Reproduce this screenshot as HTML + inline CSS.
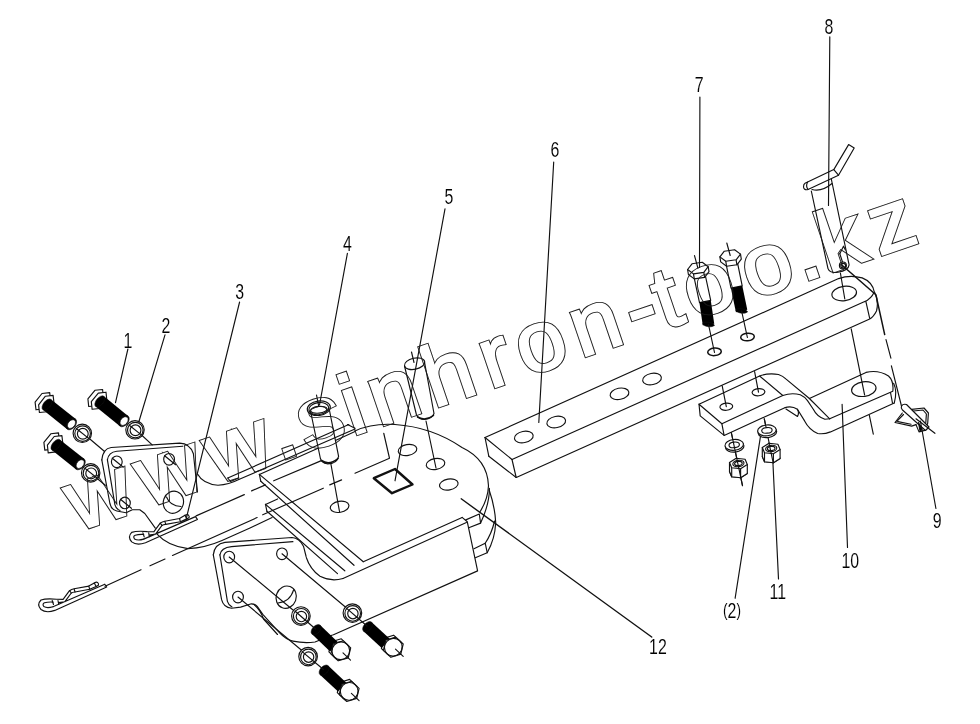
<!DOCTYPE html>
<html><head><meta charset="utf-8"><title>Drawing</title>
<style>html,body{margin:0;padding:0;background:#fff}svg{display:block}text{font-family:"Liberation Sans",sans-serif}</style></head>
<body>
<svg width="980" height="724" viewBox="0 0 980 724">
<rect width="980" height="724" fill="#fff"/>
<g fill="none" stroke="#111" stroke-width="1.15" stroke-linecap="round" stroke-linejoin="round">
<path d="M197.5,474 Q203,484 218,485.2 Q229,484.5 238.8,479.5"/>
<line x1="227.8" y1="478.0" x2="348.8" y2="424.5"/>
<line x1="238.8" y1="479.5" x2="355.0" y2="429.0"/>
<path d="M227.8,478 L230.5,481.5 L238.8,478"/>
<line x1="347.5" y1="424.5" x2="355.0" y2="428.3"/>
<line x1="259.4" y1="474.4" x2="318.0" y2="448.2"/>
<line x1="336.0" y1="440.2" x2="355.0" y2="431.5"/>
<path d="M355,431 Q372,423 395,424.5 Q432,427 462,447.5 Q487.5,459.5 488.5,485.7"/>
<path d="M488.5,485.7 Q488,499 479.9,512"/>
<path d="M489.4,488.4 Q489.5,504 480.6,523.1"/>
<path d="M489.1,489.7 Q495,507 495.7,522.5 Q495,539 487.2,552.7"/>
<path d="M494.6,521 Q491.5,534 485.2,543.2"/>
<line x1="363.3" y1="561.7" x2="462.1" y2="517.4"/>
<line x1="343.0" y1="578.5" x2="466.4" y2="522.4"/>
<path d="M462.1,517.4 L467.3,521.8 L477.6,570.9 L333.5,634.8"/>
<path d="M465.8,519.9 L479.3,514 L480.6,523.1 L468.8,527.7"/>
<path d="M474,548.7 L485.2,543.2 L487.2,552.7 L475.3,557.7"/>
<line x1="259.4" y1="474.4" x2="363.3" y2="561.7"/>
<line x1="259.4" y1="474.4" x2="260.8" y2="481.3"/>
<line x1="260.8" y1="481.3" x2="354.0" y2="565.3"/>
<line x1="265.5" y1="504.4" x2="277.6" y2="498.9"/>
<line x1="265.5" y1="504.4" x2="344.8" y2="570.8"/>
<line x1="265.5" y1="504.4" x2="266.9" y2="511.3"/>
<line x1="266.9" y1="511.3" x2="337.5" y2="573.6"/>
<path d="M306.3,557.5 Q310,569 320,576.3 Q331,582 343,578.5"/>
<path d="M157.3,534.3 Q168,546 188,548.6 Q205,548 222,540.5 L250,527.9 L272.1,517.5"/>
<ellipse cx="339.6" cy="506.8" rx="9.4" ry="5.5" transform="rotate(-10.0 339.6 506.8)"/>
<ellipse cx="435.5" cy="464.0" rx="9.4" ry="5.5" transform="rotate(-10.0 435.5 464.0)"/>
<ellipse cx="407.5" cy="450.0" rx="9.4" ry="5.5" transform="rotate(-10.0 407.5 450.0)"/>
<ellipse cx="448.8" cy="484.5" rx="9.4" ry="5.5" transform="rotate(-10.0 448.8 484.5)"/>
<path d="M373.8,478.2 L395.0,469.0 L412.5,484.5 L392.0,493.2 Z" stroke-width="2.4"/>
<path d="M383.75,433.25 L389.5,458.25 L355,473.25"/>
<line x1="196.1" y1="515.9" x2="244.3" y2="494.6"/>
<line x1="251.6" y1="490.9" x2="265.4" y2="484.9"/>
<line x1="273.7" y1="480.8" x2="321.4" y2="460.6"/>
<line x1="105.0" y1="586.3" x2="141.0" y2="569.7"/>
<line x1="150.0" y1="565.8" x2="165.0" y2="559.0"/>
<line x1="172.5" y1="555.5" x2="257.1" y2="517.6"/>
<line x1="262.7" y1="514.8" x2="323.3" y2="488.2"/>
<line x1="329.7" y1="484.9" x2="341.6" y2="479.9"/>
<path d="M310.6,411.5 L320.4,458.5 Q322,463 327,463.8 Q337,464 338.6,456.3 L329.5,410.5"/>
<path d="M321.5,460.5 Q329,466 338,458.5" stroke-width="1.6"/>
<ellipse cx="318.8" cy="408.2" rx="11.6" ry="7.2" transform="rotate(-8.0 318.8 408.2)"/>
<ellipse cx="318.8" cy="408.6" rx="10.0" ry="6.0" transform="rotate(-8.0 318.8 408.6)"/>
<ellipse cx="318.8" cy="409.8" rx="8.3" ry="3.4" transform="rotate(-6.0 318.8 409.8)"/>
<line x1="330.9" y1="464.0" x2="339.6" y2="512.0"/>
<line x1="316.5" y1="395.0" x2="318.8" y2="406.5"/>
<path d="M404.5,366 L416.5,415 Q419,419.5 424.5,419.5 Q432.5,418.5 434,413.5 L424.5,362"/>
<path d="M417.5,417 Q425,421.5 433.5,415.5" stroke-width="1.5"/>
<ellipse cx="414.6" cy="363.7" rx="10.3" ry="5.6" transform="rotate(-12.0 414.6 363.7)"/>
<line x1="426.0" y1="421.0" x2="436.0" y2="468.0"/>
<line x1="411.5" y1="352.0" x2="414.0" y2="362.5"/>
<line x1="87.5" y1="437.0" x2="104.3" y2="451.2"/>
<line x1="141.0" y1="434.5" x2="152.2" y2="444.8"/>
<line x1="96.0" y1="477.5" x2="105.3" y2="485.3"/>
<path d="M43.6,408.9 L36.0,409.8 L35.1,402.1 L42.0,393.5 L49.7,392.6 L50.5,400.3 Z" fill="#fff"/>
<path d="M47.1,411.7 L39.4,412.5 L38.6,404.8 L45.4,396.2 L53.1,395.4 L54.0,403.1 Z" fill="#fff"/>
<line x1="47.0" y1="404.6" x2="71.3" y2="424.0" stroke="#000" stroke-width="13.2" stroke-linecap="butt"/>
<ellipse cx="47.0" cy="404.6" rx="3.6" ry="6.6" fill="#000" stroke-width="0.5" transform="rotate(38.7 47.0 404.6)"/>
<ellipse cx="71.3" cy="424.0" rx="4.4" ry="6.6" fill="#000" stroke-width="0.5" transform="rotate(38.7 71.3 424.0)"/>
<ellipse cx="71.5" cy="424.1" rx="3.4" ry="4.9" fill="#fff" stroke-width="0.6" transform="rotate(38.7 71.5 424.1)"/>
<path d="M96.4,405.7 L88.7,406.5 L87.9,398.8 L94.9,390.3 L102.6,389.5 L103.3,397.2 Z" fill="#fff"/>
<path d="M99.8,408.5 L92.1,409.3 L91.3,401.6 L98.3,393.1 L106.0,392.2 L106.8,399.9 Z" fill="#fff"/>
<line x1="99.8" y1="401.4" x2="123.9" y2="421.0" stroke="#000" stroke-width="13.2" stroke-linecap="butt"/>
<ellipse cx="99.8" cy="401.4" rx="3.6" ry="6.6" fill="#000" stroke-width="0.5" transform="rotate(39.2 99.8 401.4)"/>
<ellipse cx="123.9" cy="421.0" rx="4.4" ry="6.6" fill="#000" stroke-width="0.5" transform="rotate(39.2 123.9 421.0)"/>
<ellipse cx="124.1" cy="421.1" rx="3.4" ry="4.9" fill="#fff" stroke-width="0.6" transform="rotate(39.2 124.1 421.1)"/>
<path d="M52.5,449.2 L44.8,450.1 L43.9,442.4 L50.8,433.8 L58.5,432.9 L59.3,440.6 Z" fill="#fff"/>
<path d="M55.9,451.9 L48.2,452.9 L47.4,445.2 L54.2,436.5 L61.9,435.6 L62.8,443.3 Z" fill="#fff"/>
<line x1="55.9" y1="444.9" x2="80.0" y2="464.0" stroke="#000" stroke-width="13.2" stroke-linecap="butt"/>
<ellipse cx="55.9" cy="444.9" rx="3.6" ry="6.6" fill="#000" stroke-width="0.5" transform="rotate(38.4 55.9 444.9)"/>
<ellipse cx="80.0" cy="464.0" rx="4.4" ry="6.6" fill="#000" stroke-width="0.5" transform="rotate(38.4 80.0 464.0)"/>
<ellipse cx="80.2" cy="464.1" rx="3.4" ry="4.9" fill="#fff" stroke-width="0.6" transform="rotate(38.4 80.2 464.1)"/>
<ellipse cx="82.3" cy="433.3" rx="9.2" ry="9.2" fill="#fff"/>
<ellipse cx="82.6" cy="433.6" rx="7.8" ry="7.8"/>
<ellipse cx="82.8" cy="433.8" rx="5.4" ry="5.4"/>
<line x1="76.3" y1="428.5" x2="88.3" y2="438.1"/>
<ellipse cx="135.0" cy="429.8" rx="9.2" ry="9.2" fill="#fff"/>
<ellipse cx="135.3" cy="430.1" rx="7.8" ry="7.8"/>
<ellipse cx="135.5" cy="430.3" rx="5.4" ry="5.4"/>
<line x1="129.0" y1="425.0" x2="141.0" y2="434.6"/>
<ellipse cx="90.7" cy="472.9" rx="9.2" ry="9.2" fill="#fff"/>
<ellipse cx="91.0" cy="473.2" rx="7.8" ry="7.8"/>
<ellipse cx="91.2" cy="473.4" rx="5.4" ry="5.4"/>
<line x1="84.7" y1="468.1" x2="96.7" y2="477.7"/>
<path d="M101.8,459.9 Q103,448.5 111.2,447.5 L179.7,443.1 Q190,443.5 193.4,453.7 L197.5,492"/>
<path d="M101.8,459.9 L109.9,503.5 Q111.5,510 116.8,511 L126.1,512.8 L132.3,509.7 L139.8,509.7 L144.8,513.5 L155.3,528.2"/>
<path d="M107.4,459.9 Q108.5,452 116.8,451.2 L182.8,446.2"/>
<path d="M107.4,459.9 L114.9,504.7 Q116,509 120,510.5"/>
<ellipse cx="116.8" cy="461.8" rx="5.4" ry="5.8"/>
<line x1="112.3" y1="458.2" x2="123.3" y2="467.2"/>
<ellipse cx="169.1" cy="459.3" rx="5.4" ry="5.8"/>
<line x1="164.6" y1="455.7" x2="175.6" y2="464.7"/>
<ellipse cx="124.9" cy="502.9" rx="5.4" ry="5.8"/>
<line x1="120.4" y1="499.3" x2="131.4" y2="508.3"/>
<ellipse cx="173.4" cy="502.2" rx="10.0" ry="11.2" transform="rotate(20.0 173.4 502.2)"/>
<path d="M166.5,497 Q170,506 181,506.5"/>
<g transform="translate(0 0)">
<path d="M53,606.7 L104.8,584.2 L106.7,587 L54.8,610.4 Q46,613.5 41,609.5 Q36.5,604.5 41,600 Q46,598.2 56.6,599.2 L63.1,599.4 L69.5,590.7 Q71.5,589.2 74.1,588.8 L88.8,586.1 L94.3,582.9 Q96.5,581.8 97.5,582.4 Q99,583.8 98.4,585.2 L96.1,586.5 L89.7,589.3 L75,592 Q72.5,592.3 71.3,593 L64.9,601.7 L58.5,602.6"/>
<path d="M53,606.7 Q47,608.5 43.8,606.5 Q42,604 44.5,602.8 Q48,601.8 53,602.1"/>
<path d="M52.2,600.5 L53.5,604.5 M58,600.5 L58.7,604.2 M69.5,590.7 L71.3,593 M74.1,588.8 L75,592 M88.8,586.1 L89.7,589.3 M94.3,582.9 L96.1,586.5"/>
</g>
<g transform="translate(90.7 -67.6)">
<path d="M53,606.7 L104.8,584.2 L106.7,587 L54.8,610.4 Q46,613.5 41,609.5 Q36.5,604.5 41,600 Q46,598.2 56.6,599.2 L63.1,599.4 L69.5,590.7 Q71.5,589.2 74.1,588.8 L88.8,586.1 L94.3,582.9 Q96.5,581.8 97.5,582.4 Q99,583.8 98.4,585.2 L96.1,586.5 L89.7,589.3 L75,592 Q72.5,592.3 71.3,593 L64.9,601.7 L58.5,602.6"/>
<path d="M53,606.7 Q47,608.5 43.8,606.5 Q42,604 44.5,602.8 Q48,601.8 53,602.1"/>
<path d="M52.2,600.5 L53.5,604.5 M58,600.5 L58.7,604.2 M69.5,590.7 L71.3,593 M74.1,588.8 L75,592 M88.8,586.1 L89.7,589.3 M94.3,582.9 L96.1,586.5"/>
</g>
<path d="M213.3,554.9 Q214.5,544 224.9,542.4 L292,537.5 Q299.5,538 303.6,546.6 L306.1,556.5"/>
<path d="M213.3,554.9 L221.6,599.7 Q223.5,607.5 231.5,608.3 L240.6,607.1 L251.4,603.8 Q255,603.8 257.2,606.3 L263,614.6 L279.6,632.8 Q286,639.5 292.9,641.1 Q304,643.5 315,642 L332.5,635"/>
<path d="M219.9,554.9 Q221,547.5 231.5,546.6 L292.9,541.6"/>
<path d="M219.9,554.9 L227.4,601.3 Q228.5,605 232,607"/>
<path d="M254.5,605 Q260.5,610 263.5,619 L277.5,634.5"/>
<ellipse cx="229.2" cy="557.0" rx="5.4" ry="5.8"/>
<ellipse cx="282.0" cy="553.8" rx="5.4" ry="5.8"/>
<ellipse cx="238.0" cy="597.0" rx="5.4" ry="5.8"/>
<ellipse cx="286.2" cy="597.2" rx="10.0" ry="11.3" transform="rotate(20.0 286.2 597.2)"/>
<path d="M278,603 Q290,602 293.7,589.7"/>
<line x1="229.2" y1="557.0" x2="300.5" y2="616.2"/>
<line x1="282.0" y1="553.8" x2="352.5" y2="613.0"/>
<line x1="238.0" y1="597.0" x2="308.8" y2="656.2"/>
<path d="M346.1,655.9 L336.2,658.9 L328.9,651.8 L331.4,641.8 L341.3,638.8 L348.7,645.9 Z" fill="#fff"/>
<line x1="316.1" y1="629.7" x2="334.3" y2="647.2" stroke="#000" stroke-width="12.2" stroke-linecap="butt"/>
<ellipse cx="316.1" cy="629.7" rx="3.8" ry="6.1" fill="#000" stroke-width="0.5" transform="rotate(43.9 316.1 629.7)"/>
<path d="M348.2,657.9 L338.2,660.8 L330.9,653.8 L333.4,643.7 L343.4,640.8 L350.7,647.8 Z" fill="#fff"/>
<ellipse cx="340.8" cy="650.8" rx="8.7" ry="9.0" transform="rotate(43.9 340.8 650.8)"/>
<line x1="343.0" y1="652.9" x2="350.5" y2="660.2"/>
<path d="M398.7,652.2 L388.9,655.4 L381.4,648.5 L383.7,638.4 L393.6,635.2 L401.1,642.1 Z" fill="#fff"/>
<line x1="367.6" y1="626.7" x2="385.8" y2="643.5" stroke="#000" stroke-width="12.2" stroke-linecap="butt"/>
<ellipse cx="367.6" cy="626.7" rx="3.8" ry="6.1" fill="#000" stroke-width="0.5" transform="rotate(42.7 367.6 626.7)"/>
<path d="M400.8,654.1 L390.9,657.3 L383.4,650.4 L385.8,640.3 L395.7,637.1 L403.2,644.0 Z" fill="#fff"/>
<ellipse cx="393.3" cy="647.2" rx="8.7" ry="9.0" transform="rotate(42.7 393.3 647.2)"/>
<line x1="395.5" y1="649.2" x2="403.2" y2="656.3"/>
<path d="M354.6,696.4 L344.7,699.6 L337.3,692.6 L339.7,682.5 L349.6,679.4 L357.0,686.4 Z" fill="#fff"/>
<line x1="324.1" y1="670.2" x2="342.2" y2="687.1" stroke="#000" stroke-width="12.2" stroke-linecap="butt"/>
<ellipse cx="324.1" cy="670.2" rx="3.8" ry="6.1" fill="#000" stroke-width="0.5" transform="rotate(43.0 324.1 670.2)"/>
<path d="M356.7,698.4 L346.8,701.5 L339.3,694.5 L341.7,684.4 L351.6,681.3 L359.1,688.3 Z" fill="#fff"/>
<ellipse cx="349.2" cy="691.4" rx="8.7" ry="9.0" transform="rotate(43.0 349.2 691.4)"/>
<line x1="351.4" y1="693.4" x2="359.1" y2="700.6"/>
<ellipse cx="300.9" cy="616.0" rx="9.3" ry="9.3" fill="#fff"/>
<ellipse cx="301.2" cy="616.3" rx="7.8" ry="7.8"/>
<ellipse cx="301.4" cy="616.5" rx="5.2" ry="5.2"/>
<line x1="294.9" y1="611.0" x2="315.5" y2="629.0"/>
<ellipse cx="352.4" cy="613.1" rx="9.3" ry="9.3" fill="#fff"/>
<ellipse cx="352.7" cy="613.4" rx="7.8" ry="7.8"/>
<ellipse cx="352.9" cy="613.6" rx="5.2" ry="5.2"/>
<line x1="346.4" y1="608.1" x2="367.0" y2="626.0"/>
<ellipse cx="308.1" cy="656.6" rx="9.3" ry="9.3" fill="#fff"/>
<ellipse cx="308.4" cy="656.9" rx="7.8" ry="7.8"/>
<ellipse cx="308.6" cy="657.1" rx="5.2" ry="5.2"/>
<line x1="302.1" y1="651.6" x2="323.5" y2="669.5"/>
<path d="M485,437.5 L838.6,278.6 Q850,274.5 862.2,277.9 Q872.5,282 874.3,292 Q871,299 864.7,301.6 L512,459.5"/>
<path d="M874.6,292.2 Q879,301 876.5,311 Q873.5,317 869.7,319 L516.25,477.5"/>
<line x1="865.9" y1="301.6" x2="869.7" y2="318.4"/>
<line x1="485.0" y1="437.5" x2="488.8" y2="456.2"/>
<line x1="488.8" y1="456.2" x2="516.2" y2="477.5"/>
<line x1="512.0" y1="459.5" x2="516.2" y2="477.5"/>
<line x1="485.0" y1="437.5" x2="512.0" y2="459.5"/>
<ellipse cx="523.8" cy="437.0" rx="9.5" ry="5.6" transform="rotate(-11.0 523.8 437.0)"/>
<ellipse cx="556.2" cy="422.0" rx="9.5" ry="5.6" transform="rotate(-11.0 556.2 422.0)"/>
<ellipse cx="619.5" cy="393.8" rx="9.5" ry="5.6" transform="rotate(-11.0 619.5 393.8)"/>
<ellipse cx="652.0" cy="379.0" rx="9.5" ry="5.6" transform="rotate(-11.0 652.0 379.0)"/>
<ellipse cx="714.5" cy="351.8" rx="6.8" ry="3.8" stroke-width="1.5" transform="rotate(-5.0 714.5 351.8)"/>
<ellipse cx="747.5" cy="337.0" rx="6.8" ry="3.8" stroke-width="1.5" transform="rotate(-5.0 747.5 337.0)"/>
<ellipse cx="844.2" cy="293.5" rx="12.4" ry="7.2" transform="rotate(-8.0 844.2 293.5)"/>
<path d="M692.3,269.2 L699.5,302.6 L710.7,300.4 L703.5,267.0 Z" fill="#fff"/>
<line x1="705.1" y1="301.5" x2="708.5" y2="324.5" stroke="#000" stroke-width="11.6" stroke-linecap="butt"/>
<ellipse cx="708.5" cy="324.5" rx="5.8" ry="2.2" fill="#000" stroke-width="0.5" transform="rotate(8.0 708.5 324.5)"/>
<line x1="708.5" y1="324.5" x2="714.5" y2="352.5"/>
<path d="M687.6,269.5 L688.4,274.5 L694.3,278.9 L704.6,277.4 L709.0,271.7 L708.2,266.7 Z" fill="#fff"/>
<line x1="703.8" y1="272.4" x2="704.6" y2="277.4"/>
<line x1="693.5" y1="273.9" x2="694.3" y2="278.9"/>
<path d="M708.2,266.7 L703.8,272.4 L693.5,273.9 L687.6,269.5 L692.0,263.8 L702.3,262.3 Z" fill="#fff"/>
<line x1="694.5" y1="255.6" x2="697.9" y2="268.1"/>
<path d="M724.6,256.6 L731.0,288.1 L742.2,285.9 L735.8,254.4 Z" fill="#fff"/>
<line x1="736.6" y1="287.0" x2="741.6" y2="311.0" stroke="#000" stroke-width="11.6" stroke-linecap="butt"/>
<ellipse cx="741.6" cy="311.0" rx="5.8" ry="2.2" fill="#000" stroke-width="0.5" transform="rotate(8.0 741.6 311.0)"/>
<line x1="741.6" y1="311.0" x2="747.4" y2="337.5"/>
<path d="M719.9,256.9 L720.7,261.9 L726.6,266.3 L736.9,264.8 L741.3,259.1 L740.5,254.1 Z" fill="#fff"/>
<line x1="736.1" y1="259.8" x2="736.9" y2="264.8"/>
<line x1="725.8" y1="261.3" x2="726.6" y2="266.3"/>
<path d="M740.5,254.1 L736.1,259.8 L725.8,261.3 L719.9,256.9 L724.3,251.2 L734.6,249.7 Z" fill="#fff"/>
<line x1="726.8" y1="243.0" x2="730.2" y2="255.5"/>
<path d="M811.3,191 L828,268.6 Q830,273.5 838,272.3 Q848.5,270.5 849.1,264.9 L831.25,178.75"/>
<path d="M812,189.5 Q822,192 832,183.5"/>
<path d="M805,183.2 L833.8,169.6 L848.6,144.6 L854.2,148 L838.5,175.2 L808,189.5 Q804,190.5 803.5,187 Q803.5,184 805,183.2 Z" fill="#fff"/>
<path d="M833.8,169.6 L838.5,175.2"/>
<path d="M808,189.5 Q805.5,186 807.5,182.2"/>
<path d="M839.8,253.7 L843.5,246.2 L845.4,250"/>
<line x1="839.8" y1="253.7" x2="842.5" y2="262.0"/>
<ellipse cx="842.9" cy="265.5" rx="3.5" ry="3.5"/>
<ellipse cx="843.2" cy="265.8" rx="2.4" ry="2.4"/>
<line x1="840.4" y1="273.0" x2="844.8" y2="299.0"/>
<line x1="851.2" y1="328.8" x2="864.6" y2="394.9"/>
<line x1="869.3" y1="415.2" x2="873.3" y2="434.1"/>
<path d="M841,264.3 L875.9,294.7 L884.7,334.6" stroke-width="1.5"/>
<line x1="886.0" y1="339.6" x2="890.9" y2="358.2"/>
<line x1="891.4" y1="365.9" x2="901.6" y2="406.5"/>
<path d="M699,404.2 L759.6,376 Q768.3,372.8 778.5,374.5 Q783,376 785.8,378.9 L809.4,398.5 L866,372.4 Q878.3,369.5 888.5,376 Q894,381 892.8,391.3 L829.7,418.8"/>
<path d="M699,404.2 L700.2,415.9 L724.1,435.4 L721.9,423.8 Z"/>
<path d="M721.9,423.8 L782.8,395.5 Q791.6,392.3 800.3,394.8 Q805,397 807.5,400.6 L813.3,409.3 Q817,416.8 824.9,419.3 L829.7,418.8"/>
<path d="M724.1,435.4 L784.3,407.9 Q791.6,405.3 797.4,409.3 L804.6,420.9 Q809,429.5 817.7,433.5 Q824,434.5 830.5,431.9 L894.3,402.9"/>
<line x1="759.6" y1="376.0" x2="782.8" y2="395.5"/>
<line x1="809.4" y1="398.5" x2="829.7" y2="418.8"/>
<path d="M893.6,383.3 Q897.5,391 894.3,402.9"/>
<line x1="890.5" y1="392.5" x2="892.5" y2="403.2"/>
<path d="M786,409 L797.5,416.5 Q799.5,413 797.4,409.3"/>
<ellipse cx="863.8" cy="389.1" rx="12.3" ry="7.3" transform="rotate(-8.0 863.8 389.1)"/>
<ellipse cx="726.3" cy="406.7" rx="6.4" ry="3.6" transform="rotate(-5.0 726.3 406.7)"/>
<ellipse cx="758.5" cy="392.2" rx="6.4" ry="3.6" transform="rotate(-5.0 758.5 392.2)"/>
<line x1="722.2" y1="385.8" x2="726.3" y2="406.7"/>
<line x1="754.6" y1="371.6" x2="758.5" y2="392.2"/>
<line x1="731.3" y1="432.5" x2="742.5" y2="485.7"/>
<line x1="764.3" y1="418.8" x2="773.0" y2="462.0"/>
<ellipse cx="734.7" cy="446.7" rx="9.3" ry="5.4" fill="#fff" transform="rotate(-6.0 734.7 446.7)"/>
<ellipse cx="734.2" cy="444.9" rx="9.3" ry="5.4" fill="#fff" transform="rotate(-6.0 734.2 444.9)"/>
<ellipse cx="734.2" cy="444.9" rx="5.2" ry="2.8" transform="rotate(-6.0 734.2 444.9)"/>
<path d="M747.3,473.5 L740.6,477.8 L731.7,476.8 L729.5,471.5 L736.2,467.2 L745.1,468.2 Z" fill="#fff"/>
<path d="M747.3,464.5 L747.3,473.5 L740.6,477.8 L731.7,476.8 L729.5,471.5 L729.5,462.5 Z" fill="#fff"/>
<line x1="740.6" y1="468.8" x2="740.6" y2="477.8"/>
<line x1="731.7" y1="467.8" x2="731.7" y2="476.8"/>
<path d="M747.3,464.5 L740.6,468.8 L731.7,467.8 L729.5,462.5 L736.2,458.2 L745.1,459.2 Z" fill="#fff"/>
<ellipse cx="738.4" cy="463.5" rx="5.6" ry="3.2" transform="rotate(-6.0 738.4 463.5)"/>
<ellipse cx="738.4" cy="463.5" rx="3.8" ry="2.1" transform="rotate(-6.0 738.4 463.5)"/>
<ellipse cx="767.4" cy="432.2" rx="9.3" ry="5.4" fill="#fff" transform="rotate(-6.0 767.4 432.2)"/>
<ellipse cx="766.9" cy="430.4" rx="9.3" ry="5.4" fill="#fff" transform="rotate(-6.0 766.9 430.4)"/>
<ellipse cx="766.9" cy="430.4" rx="5.2" ry="2.8" transform="rotate(-6.0 766.9 430.4)"/>
<path d="M780.1,458.5 L773.4,462.8 L764.5,461.8 L762.3,456.5 L769.0,452.2 L777.9,453.2 Z" fill="#fff"/>
<path d="M780.1,449.5 L780.1,458.5 L773.4,462.8 L764.5,461.8 L762.3,456.5 L762.3,447.5 Z" fill="#fff"/>
<line x1="773.4" y1="453.8" x2="773.4" y2="462.8"/>
<line x1="764.5" y1="452.8" x2="764.5" y2="461.8"/>
<path d="M780.1,449.5 L773.4,453.8 L764.5,452.8 L762.3,447.5 L769.0,443.2 L777.9,444.2 Z" fill="#fff"/>
<ellipse cx="771.2" cy="448.5" rx="5.6" ry="3.2" transform="rotate(-6.0 771.2 448.5)"/>
<ellipse cx="771.2" cy="448.5" rx="3.8" ry="2.1" transform="rotate(-6.0 771.2 448.5)"/>
<line x1="731.3" y1="432.5" x2="742.5" y2="485.7"/>
<line x1="764.3" y1="418.8" x2="766.0" y2="427.0"/>
<line x1="769.0" y1="443.0" x2="773.0" y2="462.0"/>
<path d="M895,422.5 L902.3,413 M895,422.5 L911.7,426.1 L916,424.6"/>
<path d="M896.8,421.3 L903.5,414.5 M898,421.6 L911,424.3"/>
<path d="M911.7,409.4 L924,408 L928.4,413 L927.7,423.2 L924.8,430.4 L919,431.9 L916,424.6"/>
<path d="M913.5,411 L923,410 L926.4,414 L925.8,422.5"/>
<path d="M901.6,406 Q903,403.5 906.5,404.5 L929,427 L925.5,430.5 L902.5,410 Q900.5,408 901.6,406 Z" fill="#fff"/>
<path d="M918.5,422.5 L922,429.5 L920,431 Z" fill="#000"/>
<line x1="916.0" y1="418.8" x2="934.9" y2="433.3"/>
<line x1="127.9" y1="349.0" x2="115.5" y2="402.6"/>
<line x1="165.0" y1="334.8" x2="138.8" y2="422.0"/>
<line x1="239.6" y1="302.0" x2="186.3" y2="518.3"/>
<line x1="347.4" y1="253.4" x2="319.5" y2="405.0"/>
<line x1="445.0" y1="208.8" x2="395.0" y2="480.8"/>
<line x1="553.7" y1="162.0" x2="538.8" y2="422.5"/>
<line x1="699.9" y1="97.0" x2="699.5" y2="267.5"/>
<line x1="829.8" y1="36.8" x2="828.5" y2="205.5"/>
<line x1="920.4" y1="421.0" x2="935.9" y2="508.5"/>
<line x1="842.1" y1="404.3" x2="847.5" y2="547.5"/>
<line x1="772.9" y1="462.2" x2="778.5" y2="578.9"/>
<line x1="760.4" y1="436.9" x2="735.1" y2="598.3"/>
<line x1="461.2" y1="498.8" x2="651.7" y2="637.0" stroke-width="1.4"/>
</g>
<g opacity="0.999">
<text x="0" y="0" transform="translate(127.9 348.3) scale(0.74 1)" text-anchor="middle" font-size="21.5" fill="#000" stroke="#fff" stroke-width="0.1">1</text>
<text x="0" y="0" transform="translate(165.9 332.7) scale(0.74 1)" text-anchor="middle" font-size="21.5" fill="#000" stroke="#fff" stroke-width="0.1">2</text>
<text x="0" y="0" transform="translate(239.6 298.7) scale(0.74 1)" text-anchor="middle" font-size="21.5" fill="#000" stroke="#fff" stroke-width="0.1">3</text>
<text x="0" y="0" transform="translate(347.4 251.4) scale(0.74 1)" text-anchor="middle" font-size="21.5" fill="#000" stroke="#fff" stroke-width="0.1">4</text>
<text x="0" y="0" transform="translate(449.0 204.1) scale(0.74 1)" text-anchor="middle" font-size="21.5" fill="#000" stroke="#fff" stroke-width="0.1">5</text>
<text x="0" y="0" transform="translate(554.9 157.0) scale(0.74 1)" text-anchor="middle" font-size="21.5" fill="#000" stroke="#fff" stroke-width="0.1">6</text>
<text x="0" y="0" transform="translate(699.1 92.2) scale(0.74 1)" text-anchor="middle" font-size="21.5" fill="#000" stroke="#fff" stroke-width="0.1">7</text>
<text x="0" y="0" transform="translate(829.0 34.1) scale(0.74 1)" text-anchor="middle" font-size="21.5" fill="#000" stroke="#fff" stroke-width="0.1">8</text>
<text x="0" y="0" transform="translate(937.2 528.2) scale(0.74 1)" text-anchor="middle" font-size="21.5" fill="#000" stroke="#fff" stroke-width="0.1">9</text>
<text x="0" y="0" transform="translate(850.3 568.0) scale(0.74 1)" text-anchor="middle" font-size="21.5" fill="#000" stroke="#fff" stroke-width="0.1">10</text>
<text x="0" y="0" transform="translate(777.8 599.0) scale(0.74 1)" text-anchor="middle" font-size="21.5" fill="#000" stroke="#fff" stroke-width="0.1">11</text>
<text x="0" y="0" transform="translate(732.0 617.5) scale(0.74 1)" text-anchor="middle" font-size="21.5" fill="#000" stroke="#fff" stroke-width="0.1"><tspan font-size="18.5" dy="-1.4">(</tspan><tspan dy="1.4">2</tspan><tspan font-size="18.5" dy="-1.4">)</tspan></text>
<text x="0" y="0" transform="translate(657.9 654.4) scale(0.74 1)" text-anchor="middle" font-size="21.5" fill="#000" stroke="#fff" stroke-width="0.1">12</text>
</g>
<mask id="wm" maskUnits="userSpaceOnUse" x="0" y="0" width="980" height="724"><text x="4.8 76.0 146.2 210.3 239.0 284.7 311.6 367.6 424.7 461.1 516.7 572.2 601.8 631.8 690.8 742.0 768.7 820.3" y="1.5 1.5 1.5 0 0 0 0 0 0 0 0 0 0 0 0 0 0 0" transform="translate(72 531.4) rotate(-18.85) scale(1.04 1)" font-family="DejaVu Sans, Liberation Sans, sans-serif" font-size="85" stroke-linejoin="miter" stroke-miterlimit="6" fill="#fff" stroke="#fff" stroke-width="3.85">www.sinhron-too.kz</text><text x="4.8 76.0 146.2 210.3 239.0 284.7 311.6 367.6 424.7 461.1 516.7 572.2 601.8 631.8 690.8 742.0 768.7 820.3" y="1.5 1.5 1.5 0 0 0 0 0 0 0 0 0 0 0 0 0 0 0" transform="translate(72 531.4) rotate(-18.85) scale(1.04 1)" font-family="DejaVu Sans, Liberation Sans, sans-serif" font-size="85" stroke-linejoin="miter" stroke-miterlimit="6" fill="#000" stroke="#000" stroke-width="2.15">www.sinhron-too.kz</text></mask><rect width="980" height="724" fill="#1a1a1a" mask="url(#wm)"/>
</svg>
</body></html>
